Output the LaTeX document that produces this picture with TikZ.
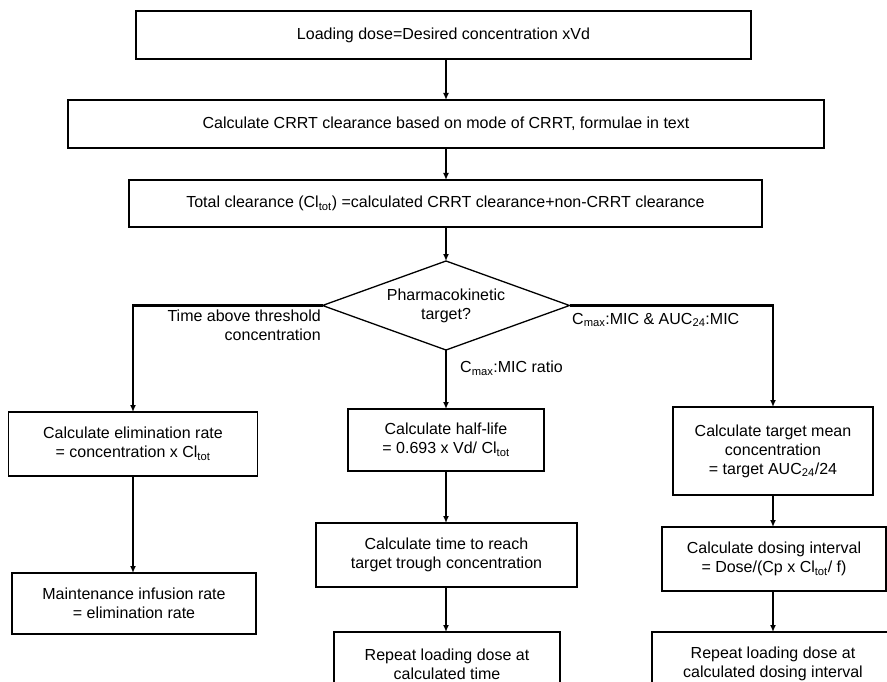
\documentclass[tikz,border=0pt]{standalone}
\usepackage{fontspec}
\setmainfont{Liberation Sans}
\usetikzlibrary{arrows.meta,shapes.geometric}

\tikzset{
  box/.style={draw=black, line width=1.4pt, rectangle, inner sep=0pt, outer sep=0pt,
              align=center, font=\fontsize{16}{19}\selectfont},
  decision/.style={draw=black, line width=1.3pt, diamond, shape aspect=2.78,
              inner sep=0pt, outer sep=0pt,
              align=center, font=\fontsize{16}{19}\selectfont},
  arr/.style={line width=2.2pt, -{Latex[length=7pt,width=6pt]}},
  lbl/.style={inner sep=0pt, font=\fontsize{16}{19}\selectfont}
}

\begin{document}
\begin{tikzpicture}[x=1pt, y=-1pt]
  \useasboundingbox (0,0) rectangle (887,682);

  % top chain
  \node[box, minimum width=615pt, minimum height=48pt] (load) at (443.5,35)
    {Loading dose=Desired concentration xVd};
  \node[box, minimum width=756pt, minimum height=48pt] (crrt) at (446,124)
    {Calculate CRRT clearance based on mode of CRRT, formulae in text};
  \node[box, minimum width=633pt, minimum height=47pt] (total) at (445.5,203.5)
    {Total clearance (Cl\textsubscript{tot}) =calculated CRRT clearance+non-CRRT clearance};

  % decision
  \node[decision, minimum width=247pt, minimum height=89pt] (pk) at (446,305.5)
    {Pharmacokinetic\\target?};

  % left column
  \node[box, minimum width=249pt, minimum height=64pt] (elim) at (133,444)
    {Calculate elimination rate\\= concentration x Cl\textsubscript{tot}};
  \node[box, minimum width=244pt, minimum height=61pt] (maint) at (134,603.5)
    {Maintenance infusion rate\\= elimination rate};

  % middle column
  \node[box, minimum width=196pt, minimum height=62pt] (half) at (446,440)
    {Calculate half-life\\= 0.693 x Vd/ Cl\textsubscript{tot}};
  \node[box, minimum width=261pt, minimum height=64pt] (reach) at (446.5,555)
    {Calculate time to reach\\target trough concentration};
  \node[box, minimum width=226pt, minimum height=64pt] (rep1) at (447,664)
    {Repeat loading dose at\\calculated time};

  % right column
  \node[box, minimum width=200pt, minimum height=88pt] (mean) at (773,451)
    {Calculate target mean\\concentration\\= target AUC\textsubscript{24}/24};
  \node[box, minimum width=224pt, minimum height=64pt] (intv) at (774,559)
    {Calculate dosing interval\\= Dose/(Cp x Cl\textsubscript{tot}/ f)};
  \node[box, minimum width=242pt, minimum height=64pt] (rep2) at (773,664)
    {Repeat loading dose at\\calculated dosing interval};

  % branch labels
  \node[lbl, anchor=north east, align=right] (lblleft) at (321,310)
    {Time above threshold\\concentration};
  \node[lbl, anchor=west] (lblright) at (572,320)
    {C\textsubscript{max}:MIC \& AUC\textsubscript{24}:MIC};
  \node[lbl, anchor=west] (lblmid) at (460,368)
    {C\textsubscript{max}:MIC ratio};

  % connectors
  \draw[arr] (load.south -| crrt.north) -- (crrt.north);
  \draw[arr] (crrt.south) -- (crrt.south |- total.north);
  \draw[arr] (crrt.south |- total.south) -- (pk.north);
  \draw[arr] (pk.west) -| (elim.north);
  \draw[arr] (pk.south) -- (pk.south |- half.north);
  \draw[arr] (pk.east) -| (mean.north);
  \draw[arr] (elim.south) -- (elim.south |- maint.north);
  \draw[arr] (half.south) -- (half.south |- reach.north);
  \draw[arr] (half.south |- reach.south) -- (half.south |- rep1.north);
  \draw[arr] (mean.south) -- (mean.south |- intv.north);
  \draw[arr] (mean.south |- intv.south) -- (mean.south |- rep2.north);
\end{tikzpicture}
\end{document}
